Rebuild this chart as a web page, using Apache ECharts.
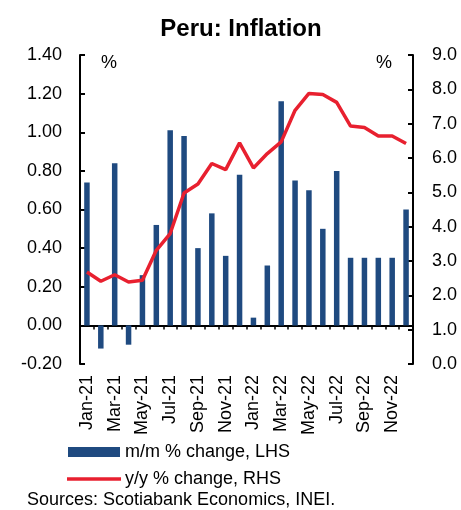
<!DOCTYPE html>
<html>
<head>
<meta charset="utf-8">
<script src="https://cdn.jsdelivr.net/npm/echarts@6/dist/echarts.min.js"></script>
<style>html,body{margin:0;padding:0;background:#fff}#c{width:461px;height:510px}</style>
</head>
<body>
<div id="c"></div>
<script>
const categories = ['Jan-21','Feb-21','Mar-21','Apr-21','May-21','Jun-21','Jul-21','Aug-21','Sep-21','Oct-21','Nov-21','Dec-21',
  'Jan-22','Feb-22','Mar-22','Apr-22','May-22','Jun-22','Jul-22','Aug-22','Sep-22','Oct-22','Nov-22','Dec-22'];
const mmChange = [0.74,-0.12,0.84,-0.10,0.26,0.52,1.01,0.98,0.40,0.58,0.36,0.78,
  0.04,0.31,1.16,0.75,0.70,0.50,0.80,0.35,0.35,0.35,0.35,0.60];
const yyChange = [2.68,2.41,2.60,2.39,2.44,3.31,3.80,4.98,5.24,5.84,5.66,6.44,
  5.71,6.13,6.47,7.39,7.88,7.85,7.62,6.93,6.89,6.64,6.64,6.42];
const leftTicks = {min:-0.2, max:1.4, interval:0.2};
const rightTicks = {min:0, max:9, interval:1};
const seriesNames = ['m/m % change, LHS', 'y/y % change, RHS'];

const BLUE = '#1F4A80', RED = '#E8202F';
const font = 'Liberation Sans, Arial, sans-serif';
const chart = echarts.init(document.getElementById('c'));
chart.setOption({
  animation:false,
  backgroundColor:'#fff',
  textStyle:{fontFamily:font},
  title:{text:'Peru: Inflation', left:236, top:12, textAlign:'center',
    textStyle:{fontFamily:font, fontWeight:'bold', fontSize:24, color:'#000'}},
  grid:{left:80, right:48, top:55, bottom:146},
  xAxis:{type:'category', data:categories,
    axisLine:{onZero:true, onZeroAxisIndex:0, lineStyle:{color:'#000', width:2}},
    axisTick:{show:true, interval:0, length:4, lineStyle:{color:'#000', width:1.5}},
    axisLabel:{interval:1, rotate:90, margin:11, fontSize:18, color:'#000', fontFamily:font},
    splitLine:{show:false}},
  yAxis:[
    {type:'value', min:leftTicks.min, max:leftTicks.max, interval:leftTicks.interval, position:'left',
     axisLine:{show:true, lineStyle:{color:'#000', width:2}},
     axisTick:{show:true, inside:true, length:5, lineStyle:{color:'#000', width:2}},
     axisLabel:{formatter:v=>v.toFixed(2), fontSize:18, color:'#000', margin:18, fontFamily:font},
     splitLine:{show:false}},
    {type:'value', min:rightTicks.min, max:rightTicks.max, interval:rightTicks.interval, position:'right',
     axisLine:{show:true, lineStyle:{color:'#000', width:2}},
     axisTick:{show:true, inside:true, length:5, lineStyle:{color:'#000', width:2}},
     axisLabel:{formatter:v=>v.toFixed(1), fontSize:18, color:'#000', margin:19, fontFamily:font},
     splitLine:{show:false}}
  ],
  graphic:[
    {type:'text', left:101, top:54, style:{text:'%', font:'18px '+font, fill:'#000'}},
    {type:'text', left:376, top:54, style:{text:'%', font:'18px '+font, fill:'#000'}},
    {type:'rect', shape:{x:68, y:447, width:52, height:10}, style:{fill:BLUE}},
    {type:'text', left:125, top:443, style:{text:seriesNames[0], font:'18px '+font, fill:'#000'}},
    {type:'line', shape:{x1:67, y1:479, x2:121, y2:479}, style:{stroke:RED, lineWidth:3.5}},
    {type:'text', left:125, top:470, style:{text:seriesNames[1], font:'18px '+font, fill:'#000'}},
    {type:'text', left:27, top:491, style:{text:'Sources: Scotiabank Economics, INEI.', font:'18px '+font, fill:'#000'}}
  ],
  series:[
    {name:seriesNames[0], type:'bar', yAxisIndex:0, data:mmChange, barWidth:5.5,
     itemStyle:{color:BLUE}},
    {name:seriesNames[1], type:'line', yAxisIndex:1, data:yyChange, symbol:'none',
     lineStyle:{color:RED, width:3.5}, itemStyle:{color:RED}, z:5}
  ]
});
</script>
</body>
</html>
